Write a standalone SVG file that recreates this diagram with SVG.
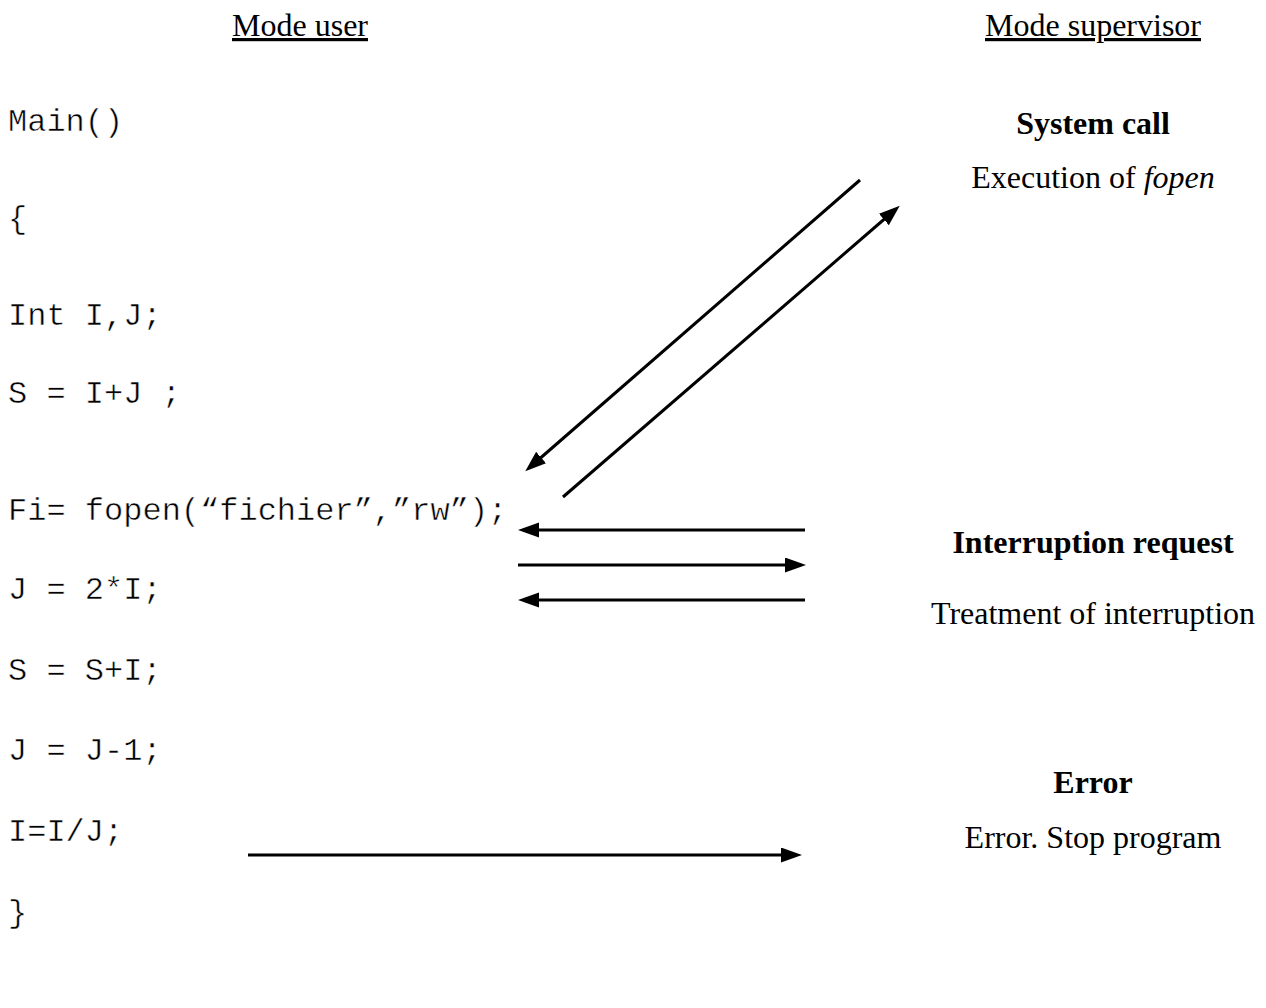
<svg xmlns="http://www.w3.org/2000/svg" width="1266" height="1008" viewBox="0 0 1266 1008">
  <style>
    .hdr { font-family: "Liberation Serif", "Times New Roman", serif; font-size: 32px; fill: #000; text-anchor: middle; text-decoration: underline; }
    /* a faint white outline keeps the monospace glyphs light like Courier */
    .code { font-family: "Liberation Mono", "Courier New", monospace; font-size: 32px; fill: #000; white-space: pre; stroke: #fff; stroke-width: 0.5; }
    .title { font-family: "Liberation Serif", "Times New Roman", serif; font-size: 32px; font-weight: bold; fill: #000; text-anchor: middle; }
    .desc { font-family: "Liberation Serif", "Times New Roman", serif; font-size: 32px; fill: #000; text-anchor: middle; }
    .arrow { stroke: #000; stroke-width: 3; fill: none; marker-end: url(#head); }
  </style>
  <defs>
    <marker id="head" markerUnits="userSpaceOnUse" markerWidth="22" markerHeight="16" refX="16" refY="7.5" orient="auto">
      <path d="M0,0 L21,7.5 L0,15 Z" fill="#000"/>
    </marker>
  </defs>

  <rect width="1266" height="1008" fill="#fff"/>

  <!-- column headings -->
  <g id="heading-user">
    <text class="hdr" x="300" y="36">Mode user</text>
  </g>
  <g id="heading-supervisor">
    <text class="hdr" x="1093" y="36">Mode supervisor</text>
  </g>

  <!-- user program -->
  <g id="program">
    <text class="code" x="8" y="131">Main()</text>
    <text class="code" x="8" y="228">{</text>
    <text class="code" x="8" y="325">Int I,J;</text>
    <text class="code" x="8" y="403">S = I+J ;</text>
    <text class="code" x="8" y="520">Fi= fopen(“fichier”,”rw”);</text>
    <text class="code" x="8" y="599">J = 2*I;</text>
    <text class="code" x="8" y="680">S = S+I;</text>
    <text class="code" x="8" y="760">J = J-1;</text>
    <text class="code" x="8" y="841">I=I/J;</text>
    <text class="code" x="8" y="922">}</text>
  </g>

  <!-- supervisor handlers -->
  <g id="system-call">
    <text class="title" x="1093" y="134">System call</text>
    <text class="desc" x="1093" y="188">Execution of <tspan font-style="italic">fopen</tspan></text>
  </g>
  <g id="interruption">
    <text class="title" x="1093" y="553">Interruption request</text>
    <text class="desc" x="1093" y="624">Treatment of interruption</text>
  </g>
  <g id="error">
    <text class="title" x="1093" y="793">Error</text>
    <text class="desc" x="1093" y="848">Error. Stop program</text>
  </g>

  <!-- transitions between modes -->
  <g id="connectors">
    <line class="arrow" x1="860" y1="180" x2="529" y2="468"/>
    <line class="arrow" x1="563" y1="497" x2="896" y2="209"/>
    <line class="arrow" x1="805" y1="530" x2="523" y2="530"/>
    <line class="arrow" x1="518" y1="565" x2="801" y2="565"/>
    <line class="arrow" x1="805" y1="600" x2="523" y2="600"/>
    <line class="arrow" x1="248" y1="855" x2="797" y2="855"/>
  </g>
</svg>
